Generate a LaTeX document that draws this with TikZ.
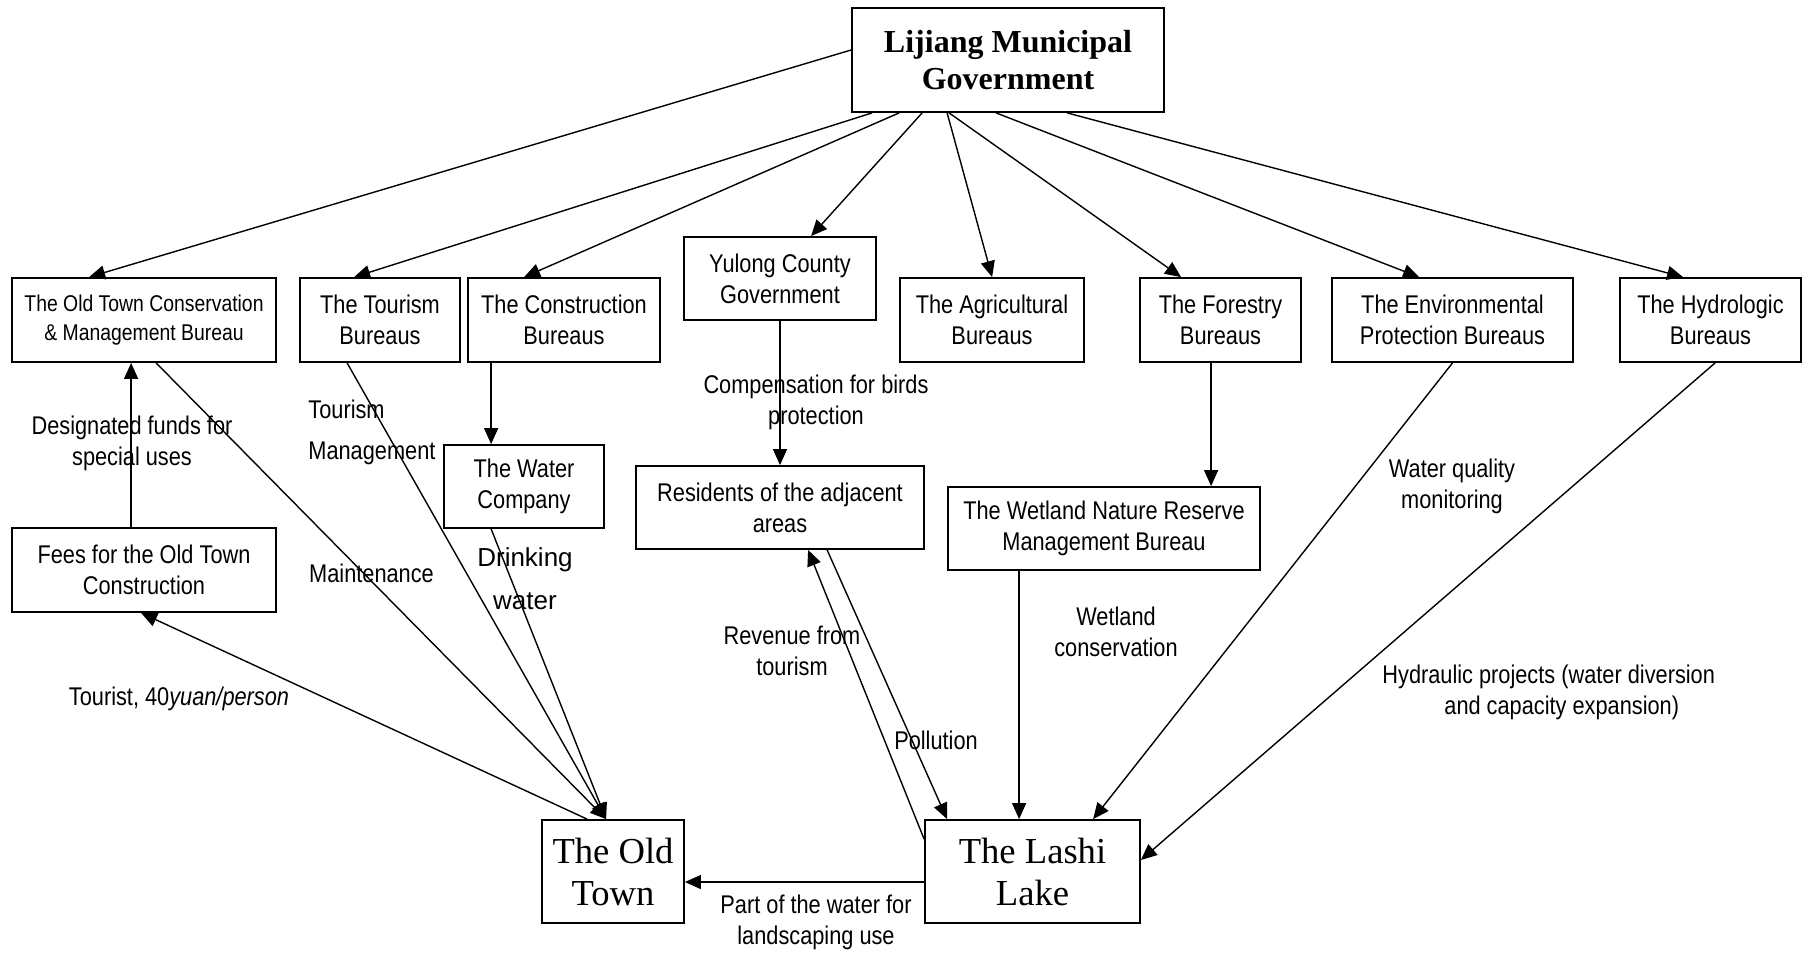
\documentclass[tikz,border=0pt]{standalone}
\usepackage{fontspec}
\usepackage{tikz}
\usetikzlibrary{arrows.meta}
\newfontfamily\narrowsans[FakeStretch=0.85]{Liberation Sans}
\newfontfamily\plainsans{Liberation Sans}
\newfontfamily\timesrm{Liberation Serif}

\tikzset{
  >={Triangle[length=8pt,width=7pt]},
  box/.style={draw, line width=0.9pt, align=center, inner sep=0pt, font=\narrowsans\fontsize{12.8}{15.5}\selectfont},
  bigbox/.style={box, font=\timesrm\fontsize{18.3}{21}\selectfont},
  lbl/.style={align=center, inner sep=0pt, font=\narrowsans\fontsize{12.8}{15.5}\selectfont},
  flow/.style={->, line width=0.7pt},
}

\begin{document}
\begin{tikzpicture}[x=0.5pt, y=-0.5pt]
\useasboundingbox (0,0) rectangle (1803,954);

\node[box, font=\timesrm\bfseries\fontsize{16}{18.5}\selectfont, minimum width=156pt, minimum height=52pt] (lij) at (1008,60) {Lijiang Municipal\\Government};

\node[box, font=\narrowsans\fontsize{11.4}{14.5}\selectfont, minimum width=132pt, minimum height=42pt] (otc) at (144,320) {The Old Town Conservation\\\& Management Bureau};
\node[box, minimum width=80pt, minimum height=42pt] (tour) at (380,320) {The Tourism\\Bureaus};
\node[box, minimum width=96pt, minimum height=42pt] (cons) at (564,320) {The Construction\\Bureaus};
\node[box, minimum width=96pt, minimum height=41.5pt] (yul) at (780,278.5) {Yulong County\\Government};
\node[box, minimum width=92pt, minimum height=42pt] (agr) at (992,320) {The Agricultural\\Bureaus};
\node[box, minimum width=80.5pt, minimum height=42pt] (forr) at (1220.5,320) {The Forestry\\Bureaus};
\node[box, minimum width=120.5pt, minimum height=42pt] (env) at (1452.5,320) {The Environmental\\Protection Bureaus};
\node[box, minimum width=90.5pt, minimum height=42pt] (hyd) at (1710.5,320) {The Hydrologic\\Bureaus};

\node[box, minimum width=80pt, minimum height=41.5pt] (wat) at (524,486.5) {The Water\\Company};
\node[box, minimum width=144pt, minimum height=41.5pt] (res) at (780,507.5) {Residents of the adjacent\\areas};
\node[box, minimum width=156pt, minimum height=41.5pt] (wet) at (1104,528.5) {The Wetland Nature Reserve\\Management Bureau};
\node[box, minimum width=132pt, minimum height=42pt] (fees) at (144,570) {Fees for the Old Town\\Construction};

\node[bigbox, minimum width=71pt, minimum height=51.5pt] (old) at (613,871.5) {The Old\\Town};
\node[bigbox, minimum width=107.5pt, minimum height=51.5pt] (lashi) at (1032.5,871.5) {The Lashi\\Lake};

% municipal government to the bureaus
\draw[flow] ([yshift=5pt]lij.west) -- ([xshift=39pt]otc.north west);
\draw[flow] ([xshift=10.5pt]lij.south west) -- ([xshift=27.5pt]tour.north west);
\draw[flow] ([xshift=24pt]lij.south west) -- ([xshift=28.5pt]cons.north west);
\draw[flow] ([xshift=35.5pt]lij.south west) -- ([xshift=64pt]yul.north west);
\draw[flow] ([xshift=48pt]lij.south west) -- ([xshift=46.5pt]agr.north west);
\draw[flow] ([xshift=49pt]lij.south west) -- ([xshift=21pt]forr.north west);
\draw[flow] ([xshift=72.5pt]lij.south west) -- ([xshift=44pt]env.north west);
\draw[flow] ([xshift=108pt]lij.south west) -- ([xshift=32pt]hyd.north west);

\draw[flow] ([xshift=12pt]cons.south west) -- ([xshift=24pt]wat.north west);
\draw[flow] (yul) -- (res);
\draw[flow] ([xshift=36pt]forr.south west) -- ([xshift=132pt]wet.north west);
\draw[flow] ([xshift=60pt]fees.north west) -- ([xshift=60pt]otc.south west);

\coordinate (oldin) at ([xshift=32.5pt]old.north west);
\draw[flow] ([xshift=72.5pt]otc.south west) -- (oldin);
\draw[flow] ([xshift=24pt]tour.south west) -- (oldin);
\draw[flow] ([xshift=24pt]wat.south west) -- (oldin);
\draw[flow] ([xshift=23pt]old.north west) -- ([xshift=65pt]fees.south west);

\draw[flow] ([yshift=-5.25pt]lashi.west) -- ([yshift=-5.25pt]old.east);
\draw[flow] ([yshift=-10pt]lashi.north west) -- ([xshift=86.5pt]res.south west);
\draw[flow] ([xshift=96pt]res.south west) -- ([xshift=11.5pt]lashi.north west);
\draw[flow] ([xshift=36pt]wet.south west) -- ([xshift=47.5pt]lashi.north west);
\draw[flow] (env.south) -- ([xshift=84.5pt]lashi.north west);
\draw[flow] ([xshift=48pt]hyd.south west) -- ([yshift=5.75pt]lashi.east);

\node[lbl] (funds) at (132,443) {Designated funds for\\special uses};
\node[lbl, anchor=west, align=left, font=\narrowsans\fontsize{12.8}{20.5}\selectfont] (tourmg) at (308,432.5) {Tourism\\Management};
\node[lbl] (maint) at (371.5,573) {Maintenance};
\node[lbl, font=\plainsans\fontsize{13}{21.5}\selectfont] (drink) at (525,578.5) {Drinking\\water};
\node[lbl] (comp) at (816,402.5) {Compensation for birds\\protection};
\node[lbl] (rev) at (792,651) {Revenue from\\tourism};
\node[lbl] (poll) at (936,740) {Pollution};
\node[lbl] (wetcons) at (1116,632) {Wetland\\conservation};
\node[lbl] (wq) at (1452,486) {Water quality\\monitoring};
\node[lbl, anchor=west, align=left] (hydproj) at (1382,692) {Hydraulic projects (water diversion\\\hspace*{31pt}and capacity expansion)};
\node[lbl] (tourist) at (179,699) {Tourist, 40\textit{yuan/person}};
\node[lbl] (partw) at (816,922) {Part of the water for\\landscaping use};
\end{tikzpicture}
\end{document}
